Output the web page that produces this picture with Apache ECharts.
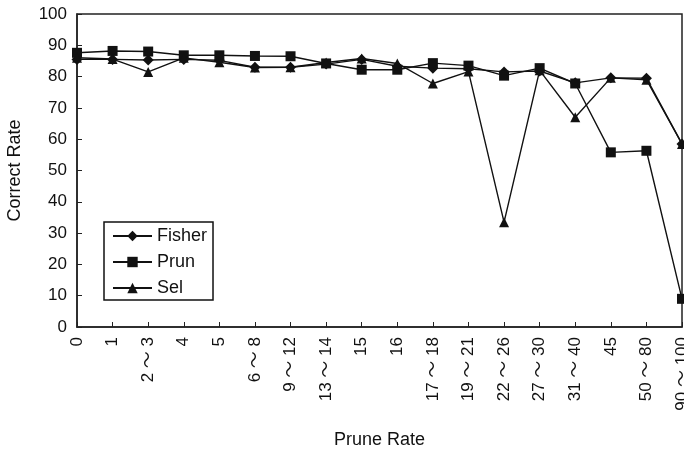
<!DOCTYPE html>
<html>
<head>
<meta charset="utf-8">
<script src="https://cdn.jsdelivr.net/npm/echarts@6/dist/echarts.min.js"></script>
<style>
  html, body { margin: 0; padding: 0; background: #fff; }
  #chart { width: 684px; height: 452px; }
</style>
</head>
<body>
<div id="chart"></div>
<script>
// Prune-rate buckets on the horizontal axis
const pruneRates = ['0', '1', '2 ～ 3', '4', '5', '6 ～ 8', '9 ～ 12', '13 ～ 14', '15', '16',
  '17 ～ 18', '19 ～ 21', '22 ～ 26', '27 ～ 30', '31 ～ 40', '45', '50 ～ 80', '90 ～ 100'];

// Correct rate (%) for each method
const fisher = [85.5, 85.5, 85.3, 85.5, 85.2, 83.0, 83.0, 84.0, 85.5, 83.3, 82.7, 82.5, 81.5, 81.8, 78.0, 79.6, 79.5, 58.5];
const prun   = [87.6, 88.2, 88.0, 86.8, 86.8, 86.6, 86.5, 84.2, 82.2, 82.2, 84.3, 83.5, 80.3, 82.7, 77.8, 55.8, 56.3, 9.0];
const sel    = [86.0, 85.6, 81.5, 86.0, 84.6, 82.9, 83.0, 84.5, 85.8, 84.2, 77.8, 81.6, 33.5, 82.0, 67.0, 79.6, 79.0, 58.5];

// Y-axis ticks
const yTicks = { min: 0, max: 100, step: 10 };

const font = 'Liberation Sans, Arial, "Noto Sans CJK KR", sans-serif';
const ink = '#111';

const chart = echarts.init(document.getElementById('chart'), null, { renderer: 'canvas' });

function lineSeries(name, data, symbol, size) {
  return {
    name: name,
    type: 'line',
    data: data,
    symbol: symbol,
    symbolSize: size,
    showAllSymbol: true,
    animation: false,
    lineStyle: { color: ink, width: 1.4 },
    itemStyle: { color: ink, borderWidth: 0 },
    emphasis: { disabled: true }
  };
}

chart.setOption({
  backgroundColor: '#fff',
  animation: false,
  textStyle: { fontFamily: font, color: ink },
  grid: {
    left: 77, right: 2, top: 14, bottom: 125,
    outerBoundsMode: 'none',
    containLabel: false,
    show: true, borderColor: '#222', borderWidth: 1.5, backgroundColor: '#fff'
  },
  legend: {
    orient: 'vertical',
    left: 104, top: 222,
    padding: [5, 6, 3, 8],
    itemWidth: 39, itemHeight: 13,
    itemGap: 8,
    borderColor: '#111', borderWidth: 1.5,
    backgroundColor: '#fff',
    textStyle: { fontFamily: font, fontSize: 18, color: ink },
    data: ['Fisher', 'Prun', 'Sel']
  },
  xAxis: {
    type: 'category',
    data: pruneRates,
    boundaryGap: false,
    name: 'Prune Rate',
    nameLocation: 'middle',
    nameGap: 104,
    nameTextStyle: { fontFamily: font, fontSize: 18, color: ink },
    axisLine: { lineStyle: { color: '#222', width: 1.5 } },
    axisTick: { inside: true, length: 5, alignWithLabel: true, lineStyle: { color: '#222' } },
    axisLabel: { rotate: 90, margin: 10, interval: 0, fontFamily: font, fontSize: 17, color: ink },
    splitLine: { show: false }
  },
  yAxis: {
    type: 'value',
    min: yTicks.min, max: yTicks.max, interval: yTicks.step,
    name: 'Correct Rate',
    nameLocation: 'middle',
    nameGap: 53,
    nameTextStyle: { fontFamily: font, fontSize: 18, color: ink },
    axisLine: { show: true, lineStyle: { color: '#222', width: 1.5 } },
    axisTick: { show: true, inside: true, length: 5, lineStyle: { color: '#222' } },
    axisLabel: { margin: 10, fontFamily: font, fontSize: 17, color: ink },
    splitLine: { show: false }
  },
  series: [
    lineSeries('Fisher', fisher, 'diamond', 11),
    lineSeries('Prun', prun, 'rect', 10),
    lineSeries('Sel', sel, 'triangle', 10)
  ]
});
</script>
</body>
</html>
